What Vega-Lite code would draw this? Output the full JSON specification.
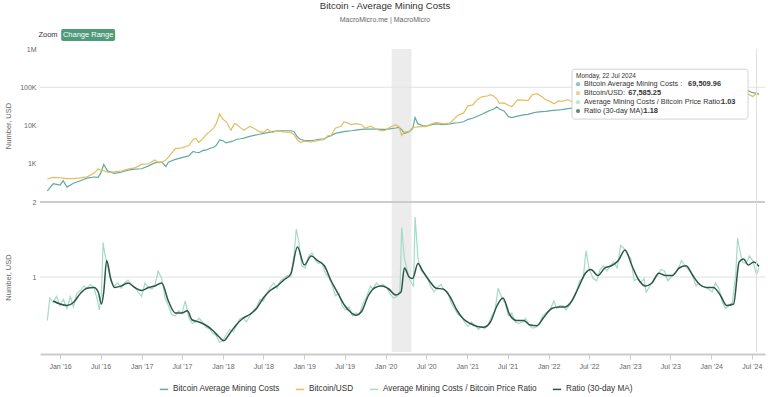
{
  "$schema": "https://vega.github.io/schema/vega-lite/v6.json",
  "padding": {"left": 4, "right": 3, "top": 1, "bottom": 0},
  "background": "white",
  "config": {
    "font": "Liberation Sans",
    "view": {"stroke": null},
    "axis": {"labelFont": "Liberation Sans", "labelFontSize": 7, "labelColor": "#666", "titleFont": "Liberation Sans", "titleFontSize": 7.5, "titleFontWeight": "normal", "titleColor": "#666", "domain": false, "ticks": false, "grid": false},
    "legend": {"orient": "none", "legendX": 119, "legendY": 355, "direction": "horizontal", "title": null, "symbolType": "stroke", "symbolSize": 70, "symbolStrokeWidth": 1.5, "labelFont": "Liberation Sans", "labelFontSize": 8.2, "labelColor": "#333", "columnPadding": 12, "labelOffset": 4, "labelLimit": 0, "padding": 0}
  },
  "title": {"text": "Bitcoin - Average Mining Costs", "subtitle": "MacroMicro.me | MacroMicro", "anchor": "middle", "frame": "bounds", "font": "Liberation Sans", "fontSize": 9.6, "fontWeight": "normal", "color": "#333", "subtitleFont": "Liberation Sans", "subtitleFontSize": 7, "subtitleColor": "#666", "subtitlePadding": 5, "offset": 6},
  "datasets": {
    "band": [{"start": "2020-01-28", "end": "2020-04-26"}],
    "prices": [
      {"date": "2015-11-05", "cost": 195, "price": 400},
      {"date": "2015-12-01", "cost": 300, "price": 440},
      {"date": "2016-01-01", "cost": 275, "price": 430},
      {"date": "2016-01-15", "cost": 360, "price": 420},
      {"date": "2016-02-01", "cost": 245, "price": 410},
      {"date": "2016-03-01", "cost": 310, "price": 410},
      {"date": "2016-04-01", "cost": 360, "price": 425},
      {"date": "2016-05-01", "cost": 420, "price": 455},
      {"date": "2016-06-01", "cost": 450, "price": 560},
      {"date": "2016-06-20", "cost": 440, "price": 740},
      {"date": "2016-07-01", "cost": 560, "price": 680},
      {"date": "2016-07-15", "cost": 960, "price": 660},
      {"date": "2016-08-01", "cost": 650, "price": 600},
      {"date": "2016-09-01", "cost": 560, "price": 610},
      {"date": "2016-10-01", "cost": 600, "price": 640},
      {"date": "2016-11-01", "cost": 680, "price": 720},
      {"date": "2016-12-01", "cost": 720, "price": 780},
      {"date": "2017-01-01", "cost": 740, "price": 960},
      {"date": "2017-02-01", "cost": 880, "price": 1000},
      {"date": "2017-03-01", "cost": 1050, "price": 1250},
      {"date": "2017-03-20", "cost": 1100, "price": 1050},
      {"date": "2017-04-01", "cost": 1100, "price": 1100},
      {"date": "2017-04-20", "cost": 850, "price": 1250},
      {"date": "2017-05-01", "cost": 1100, "price": 1500},
      {"date": "2017-06-01", "cost": 1300, "price": 2500},
      {"date": "2017-07-01", "cost": 1450, "price": 2600},
      {"date": "2017-08-01", "cost": 1600, "price": 3000},
      {"date": "2017-08-20", "cost": 2100, "price": 4300},
      {"date": "2017-09-01", "cost": 2000, "price": 4600},
      {"date": "2017-09-15", "cost": 1950, "price": 3600},
      {"date": "2017-10-01", "cost": 2200, "price": 4400},
      {"date": "2017-10-20", "cost": 2300, "price": 6000},
      {"date": "2017-11-01", "cost": 2500, "price": 6800},
      {"date": "2017-11-20", "cost": 2700, "price": 8500},
      {"date": "2017-12-01", "cost": 3000, "price": 11000},
      {"date": "2017-12-17", "cost": 4200, "price": 20000},
      {"date": "2018-01-01", "cost": 4000, "price": 14500},
      {"date": "2018-01-16", "cost": 3500, "price": 12500},
      {"date": "2018-02-06", "cost": 3800, "price": 7500},
      {"date": "2018-02-20", "cost": 4000, "price": 11000},
      {"date": "2018-03-01", "cost": 4300, "price": 11000},
      {"date": "2018-03-20", "cost": 4500, "price": 8800},
      {"date": "2018-04-05", "cost": 4700, "price": 7500},
      {"date": "2018-05-01", "cost": 5200, "price": 9500},
      {"date": "2018-05-20", "cost": 5500, "price": 8500},
      {"date": "2018-06-15", "cost": 5900, "price": 6800},
      {"date": "2018-07-01", "cost": 6200, "price": 6600},
      {"date": "2018-07-20", "cost": 6500, "price": 8000},
      {"date": "2018-08-10", "cost": 6900, "price": 6500},
      {"date": "2018-09-01", "cost": 7200, "price": 7200},
      {"date": "2018-10-01", "cost": 7300, "price": 6800},
      {"date": "2018-11-01", "cost": 7300, "price": 6600},
      {"date": "2018-11-15", "cost": 7000, "price": 5800},
      {"date": "2018-12-01", "cost": 5000, "price": 4200},
      {"date": "2018-12-15", "cost": 4300, "price": 3600},
      {"date": "2019-01-01", "cost": 4100, "price": 3900},
      {"date": "2019-02-01", "cost": 4000, "price": 3700},
      {"date": "2019-03-01", "cost": 4300, "price": 4000},
      {"date": "2019-04-01", "cost": 4500, "price": 4300},
      {"date": "2019-04-15", "cost": 5000, "price": 5400},
      {"date": "2019-05-01", "cost": 5400, "price": 5500},
      {"date": "2019-05-20", "cost": 6200, "price": 8500},
      {"date": "2019-06-15", "cost": 6700, "price": 9500},
      {"date": "2019-06-28", "cost": 6900, "price": 12500},
      {"date": "2019-07-15", "cost": 7100, "price": 11500},
      {"date": "2019-08-01", "cost": 7300, "price": 10500},
      {"date": "2019-08-20", "cost": 7600, "price": 11200},
      {"date": "2019-09-15", "cost": 7900, "price": 10500},
      {"date": "2019-10-01", "cost": 8000, "price": 8500},
      {"date": "2019-10-26", "cost": 8100, "price": 9600},
      {"date": "2019-11-20", "cost": 8000, "price": 8000},
      {"date": "2019-12-15", "cost": 7900, "price": 7200},
      {"date": "2020-01-01", "cost": 7900, "price": 7500},
      {"date": "2020-01-20", "cost": 8200, "price": 9000},
      {"date": "2020-02-15", "cost": 8600, "price": 10500},
      {"date": "2020-03-01", "cost": 8900, "price": 9200},
      {"date": "2020-03-13", "cost": 7800, "price": 5500},
      {"date": "2020-03-25", "cost": 6200, "price": 6700},
      {"date": "2020-04-15", "cost": 6900, "price": 7000},
      {"date": "2020-05-01", "cost": 8300, "price": 8800},
      {"date": "2020-05-12", "cost": 16000, "price": 9000},
      {"date": "2020-05-25", "cost": 11000, "price": 9200},
      {"date": "2020-06-15", "cost": 10000, "price": 9500},
      {"date": "2020-07-01", "cost": 9600, "price": 9300},
      {"date": "2020-07-25", "cost": 10500, "price": 11000},
      {"date": "2020-08-15", "cost": 11000, "price": 12000},
      {"date": "2020-09-15", "cost": 10500, "price": 11000},
      {"date": "2020-10-15", "cost": 11000, "price": 11500},
      {"date": "2020-11-01", "cost": 11500, "price": 14500},
      {"date": "2020-11-20", "cost": 11800, "price": 18500},
      {"date": "2020-12-15", "cost": 12500, "price": 21000},
      {"date": "2021-01-05", "cost": 14500, "price": 33000},
      {"date": "2021-01-25", "cost": 15500, "price": 34000},
      {"date": "2021-02-15", "cost": 17500, "price": 48000},
      {"date": "2021-03-10", "cost": 20000, "price": 57000},
      {"date": "2021-04-01", "cost": 23000, "price": 59000},
      {"date": "2021-04-15", "cost": 25000, "price": 64000},
      {"date": "2021-05-01", "cost": 27000, "price": 58000},
      {"date": "2021-05-13", "cost": 31000, "price": 50000},
      {"date": "2021-05-25", "cost": 27000, "price": 38000},
      {"date": "2021-06-15", "cost": 24000, "price": 39000},
      {"date": "2021-07-05", "cost": 17000, "price": 34000},
      {"date": "2021-07-20", "cost": 16000, "price": 31000},
      {"date": "2021-08-15", "cost": 17500, "price": 47000},
      {"date": "2021-09-10", "cost": 19000, "price": 46000},
      {"date": "2021-10-01", "cost": 19500, "price": 45000},
      {"date": "2021-10-20", "cost": 21000, "price": 64000},
      {"date": "2021-11-10", "cost": 22500, "price": 68000},
      {"date": "2021-12-01", "cost": 23000, "price": 57000},
      {"date": "2021-12-20", "cost": 23500, "price": 47000},
      {"date": "2022-01-10", "cost": 24500, "price": 42000},
      {"date": "2022-01-25", "cost": 25000, "price": 37000},
      {"date": "2022-02-15", "cost": 25500, "price": 44000},
      {"date": "2022-03-01", "cost": 26000, "price": 43000},
      {"date": "2022-03-28", "cost": 27500, "price": 47000},
      {"date": "2022-04-20", "cost": 28500, "price": 41000},
      {"date": "2022-05-12", "cost": 28000, "price": 29000},
      {"date": "2022-06-01", "cost": 28000, "price": 30000},
      {"date": "2022-06-18", "cost": 25000, "price": 19000},
      {"date": "2022-07-15", "cost": 21500, "price": 21000},
      {"date": "2022-08-15", "cost": 23000, "price": 24000},
      {"date": "2022-09-15", "cost": 22500, "price": 20000},
      {"date": "2022-10-15", "cost": 23000, "price": 19500},
      {"date": "2022-11-10", "cost": 22500, "price": 16500},
      {"date": "2022-12-15", "cost": 21000, "price": 17500},
      {"date": "2023-01-15", "cost": 22000, "price": 21000},
      {"date": "2023-02-15", "cost": 23500, "price": 24000},
      {"date": "2023-03-10", "cost": 22000, "price": 20500},
      {"date": "2023-03-25", "cost": 24500, "price": 28000},
      {"date": "2023-04-15", "cost": 29000, "price": 30500},
      {"date": "2023-05-15", "cost": 28500, "price": 27000},
      {"date": "2023-06-15", "cost": 28000, "price": 25500},
      {"date": "2023-06-30", "cost": 30000, "price": 30500},
      {"date": "2023-07-15", "cost": 31000, "price": 30500},
      {"date": "2023-08-20", "cost": 31500, "price": 26000},
      {"date": "2023-09-15", "cost": 30000, "price": 26500},
      {"date": "2023-10-25", "cost": 31500, "price": 34500},
      {"date": "2023-11-15", "cost": 33000, "price": 37000},
      {"date": "2023-12-10", "cost": 37000, "price": 44000},
      {"date": "2024-01-10", "cost": 38500, "price": 46000},
      {"date": "2024-01-25", "cost": 36000, "price": 40000},
      {"date": "2024-02-20", "cost": 38000, "price": 52000},
      {"date": "2024-03-14", "cost": 42000, "price": 72000},
      {"date": "2024-04-01", "cost": 46000, "price": 69000},
      {"date": "2024-04-22", "cost": 80000, "price": 65000},
      {"date": "2024-05-01", "cost": 85000, "price": 58000},
      {"date": "2024-05-20", "cost": 80000, "price": 70000},
      {"date": "2024-06-15", "cost": 80000, "price": 66000},
      {"date": "2024-07-05", "cost": 72000, "price": 57000},
      {"date": "2024-07-22", "cost": 69510, "price": 67585},
      {"date": "2024-08-02", "cost": 68000, "price": 64000}
    ],
    "ratio": [
      {"date": "2015-11-05", "ratio": 0.42}, {"date": "2015-11-16", "ratio": 0.72}, {"date": "2015-12-01", "ratio": 0.66}, {"date": "2015-12-16", "ratio": 0.74},
      {"date": "2016-01-01", "ratio": 0.62}, {"date": "2016-01-16", "ratio": 0.70}, {"date": "2016-02-01", "ratio": 0.58}, {"date": "2016-02-16", "ratio": 0.74},
      {"date": "2016-03-01", "ratio": 0.60}, {"date": "2016-03-16", "ratio": 0.78}, {"date": "2016-04-01", "ratio": 0.82}, {"date": "2016-04-16", "ratio": 0.88},
      {"date": "2016-05-01", "ratio": 0.85}, {"date": "2016-05-16", "ratio": 0.90}, {"date": "2016-06-01", "ratio": 0.86}, {"date": "2016-06-16", "ratio": 0.70},
      {"date": "2016-06-25", "ratio": 0.56}, {"date": "2016-07-05", "ratio": 0.80}, {"date": "2016-07-12", "ratio": 1.46}, {"date": "2016-07-20", "ratio": 1.30},
      {"date": "2016-08-01", "ratio": 1.15}, {"date": "2016-08-16", "ratio": 0.95}, {"date": "2016-09-01", "ratio": 0.88}, {"date": "2016-09-16", "ratio": 0.92},
      {"date": "2016-10-01", "ratio": 0.85}, {"date": "2016-10-16", "ratio": 0.92}, {"date": "2016-11-01", "ratio": 0.96}, {"date": "2016-11-16", "ratio": 0.90},
      {"date": "2016-12-01", "ratio": 0.86}, {"date": "2016-12-16", "ratio": 0.80}, {"date": "2017-01-01", "ratio": 0.74}, {"date": "2017-01-16", "ratio": 0.92},
      {"date": "2017-02-01", "ratio": 0.86}, {"date": "2017-02-16", "ratio": 0.84}, {"date": "2017-03-01", "ratio": 0.88}, {"date": "2017-03-16", "ratio": 1.08},
      {"date": "2017-04-01", "ratio": 0.98}, {"date": "2017-04-16", "ratio": 0.72}, {"date": "2017-05-01", "ratio": 0.62}, {"date": "2017-05-16", "ratio": 0.50},
      {"date": "2017-06-01", "ratio": 0.48}, {"date": "2017-06-16", "ratio": 0.55}, {"date": "2017-07-01", "ratio": 0.52}, {"date": "2017-07-16", "ratio": 0.68},
      {"date": "2017-08-01", "ratio": 0.46}, {"date": "2017-08-16", "ratio": 0.38}, {"date": "2017-09-01", "ratio": 0.40}, {"date": "2017-09-16", "ratio": 0.45},
      {"date": "2017-10-01", "ratio": 0.40}, {"date": "2017-10-16", "ratio": 0.33}, {"date": "2017-11-01", "ratio": 0.31}, {"date": "2017-11-16", "ratio": 0.25},
      {"date": "2017-12-01", "ratio": 0.22}, {"date": "2017-12-16", "ratio": 0.13}, {"date": "2018-01-01", "ratio": 0.15}, {"date": "2018-01-16", "ratio": 0.24},
      {"date": "2018-02-01", "ratio": 0.30}, {"date": "2018-02-16", "ratio": 0.27}, {"date": "2018-03-01", "ratio": 0.34}, {"date": "2018-03-16", "ratio": 0.44},
      {"date": "2018-04-01", "ratio": 0.46}, {"date": "2018-04-16", "ratio": 0.40}, {"date": "2018-05-01", "ratio": 0.48}, {"date": "2018-05-16", "ratio": 0.55},
      {"date": "2018-06-01", "ratio": 0.60}, {"date": "2018-06-16", "ratio": 0.70}, {"date": "2018-07-01", "ratio": 0.68}, {"date": "2018-07-16", "ratio": 0.78},
      {"date": "2018-08-01", "ratio": 0.86}, {"date": "2018-08-16", "ratio": 0.92}, {"date": "2018-09-01", "ratio": 0.85}, {"date": "2018-09-16", "ratio": 0.95},
      {"date": "2018-10-01", "ratio": 0.98}, {"date": "2018-10-16", "ratio": 1.02}, {"date": "2018-11-01", "ratio": 1.00}, {"date": "2018-11-16", "ratio": 1.30},
      {"date": "2018-11-26", "ratio": 1.64}, {"date": "2018-12-08", "ratio": 1.45}, {"date": "2018-12-20", "ratio": 1.15}, {"date": "2019-01-05", "ratio": 1.12},
      {"date": "2019-01-20", "ratio": 1.28}, {"date": "2019-02-05", "ratio": 1.32}, {"date": "2019-02-20", "ratio": 1.22}, {"date": "2019-03-05", "ratio": 1.18},
      {"date": "2019-03-20", "ratio": 1.20}, {"date": "2019-04-05", "ratio": 1.05}, {"date": "2019-04-20", "ratio": 1.00}, {"date": "2019-05-05", "ratio": 0.90},
      {"date": "2019-05-20", "ratio": 0.75}, {"date": "2019-06-05", "ratio": 0.78}, {"date": "2019-06-20", "ratio": 0.62}, {"date": "2019-07-05", "ratio": 0.56},
      {"date": "2019-07-20", "ratio": 0.60}, {"date": "2019-08-05", "ratio": 0.48}, {"date": "2019-08-20", "ratio": 0.52}, {"date": "2019-09-05", "ratio": 0.50},
      {"date": "2019-09-20", "ratio": 0.64}, {"date": "2019-10-05", "ratio": 0.72}, {"date": "2019-10-25", "ratio": 0.88}, {"date": "2019-11-05", "ratio": 0.84},
      {"date": "2019-11-20", "ratio": 0.92}, {"date": "2019-12-05", "ratio": 0.88}, {"date": "2019-12-20", "ratio": 0.90}, {"date": "2020-01-05", "ratio": 0.86},
      {"date": "2020-01-20", "ratio": 0.78}, {"date": "2020-02-05", "ratio": 0.72}, {"date": "2020-02-20", "ratio": 0.74}, {"date": "2020-03-05", "ratio": 0.82},
      {"date": "2020-03-13", "ratio": 1.66}, {"date": "2020-03-25", "ratio": 1.25}, {"date": "2020-04-05", "ratio": 1.10}, {"date": "2020-04-20", "ratio": 0.95},
      {"date": "2020-05-05", "ratio": 0.88}, {"date": "2020-05-12", "ratio": 1.80}, {"date": "2020-05-25", "ratio": 1.25}, {"date": "2020-06-05", "ratio": 1.10},
      {"date": "2020-06-20", "ratio": 1.05}, {"date": "2020-07-05", "ratio": 1.00}, {"date": "2020-07-20", "ratio": 0.88}, {"date": "2020-08-05", "ratio": 0.80},
      {"date": "2020-08-20", "ratio": 0.86}, {"date": "2020-09-05", "ratio": 0.90}, {"date": "2020-09-20", "ratio": 0.82}, {"date": "2020-10-05", "ratio": 0.80},
      {"date": "2020-10-20", "ratio": 0.66}, {"date": "2020-11-05", "ratio": 0.58}, {"date": "2020-11-20", "ratio": 0.50}, {"date": "2020-12-05", "ratio": 0.48},
      {"date": "2020-12-20", "ratio": 0.40}, {"date": "2021-01-05", "ratio": 0.34}, {"date": "2021-01-20", "ratio": 0.40}, {"date": "2021-02-05", "ratio": 0.36},
      {"date": "2021-02-20", "ratio": 0.30}, {"date": "2021-03-05", "ratio": 0.34}, {"date": "2021-03-20", "ratio": 0.31}, {"date": "2021-04-05", "ratio": 0.36},
      {"date": "2021-04-20", "ratio": 0.48}, {"date": "2021-05-05", "ratio": 0.55}, {"date": "2021-05-20", "ratio": 0.85}, {"date": "2021-06-05", "ratio": 0.72},
      {"date": "2021-06-20", "ratio": 0.65}, {"date": "2021-07-05", "ratio": 0.48}, {"date": "2021-07-20", "ratio": 0.52}, {"date": "2021-08-05", "ratio": 0.40},
      {"date": "2021-08-20", "ratio": 0.38}, {"date": "2021-09-05", "ratio": 0.40}, {"date": "2021-09-20", "ratio": 0.45}, {"date": "2021-10-05", "ratio": 0.36},
      {"date": "2021-10-20", "ratio": 0.32}, {"date": "2021-11-05", "ratio": 0.33}, {"date": "2021-11-20", "ratio": 0.38}, {"date": "2021-12-05", "ratio": 0.48},
      {"date": "2021-12-20", "ratio": 0.52}, {"date": "2022-01-05", "ratio": 0.55}, {"date": "2022-01-25", "ratio": 0.68}, {"date": "2022-02-05", "ratio": 0.58},
      {"date": "2022-02-20", "ratio": 0.62}, {"date": "2022-03-05", "ratio": 0.62}, {"date": "2022-03-20", "ratio": 0.56}, {"date": "2022-04-05", "ratio": 0.62},
      {"date": "2022-04-20", "ratio": 0.72}, {"date": "2022-05-05", "ratio": 0.80}, {"date": "2022-05-20", "ratio": 0.95}, {"date": "2022-06-05", "ratio": 0.98},
      {"date": "2022-06-18", "ratio": 1.35}, {"date": "2022-07-01", "ratio": 1.12}, {"date": "2022-07-20", "ratio": 0.98}, {"date": "2022-08-05", "ratio": 0.95},
      {"date": "2022-08-20", "ratio": 1.10}, {"date": "2022-09-05", "ratio": 1.15}, {"date": "2022-09-20", "ratio": 1.08}, {"date": "2022-10-05", "ratio": 1.15},
      {"date": "2022-10-20", "ratio": 1.20}, {"date": "2022-11-05", "ratio": 1.12}, {"date": "2022-11-20", "ratio": 1.42}, {"date": "2022-12-05", "ratio": 1.38},
      {"date": "2022-12-20", "ratio": 1.30}, {"date": "2023-01-05", "ratio": 1.25}, {"date": "2023-01-20", "ratio": 0.95}, {"date": "2023-02-05", "ratio": 0.98},
      {"date": "2023-02-20", "ratio": 0.92}, {"date": "2023-03-05", "ratio": 0.98}, {"date": "2023-03-15", "ratio": 0.80}, {"date": "2023-04-01", "ratio": 0.88},
      {"date": "2023-04-20", "ratio": 0.98}, {"date": "2023-05-05", "ratio": 1.02}, {"date": "2023-05-20", "ratio": 1.10}, {"date": "2023-06-05", "ratio": 1.08},
      {"date": "2023-06-20", "ratio": 0.95}, {"date": "2023-07-05", "ratio": 1.00}, {"date": "2023-07-20", "ratio": 1.05}, {"date": "2023-08-05", "ratio": 1.10},
      {"date": "2023-08-20", "ratio": 1.22}, {"date": "2023-09-05", "ratio": 1.15}, {"date": "2023-09-20", "ratio": 1.10}, {"date": "2023-10-05", "ratio": 1.05},
      {"date": "2023-10-25", "ratio": 0.88}, {"date": "2023-11-05", "ratio": 0.92}, {"date": "2023-11-20", "ratio": 0.88}, {"date": "2023-12-05", "ratio": 0.86},
      {"date": "2023-12-20", "ratio": 0.84}, {"date": "2024-01-05", "ratio": 0.80}, {"date": "2024-01-20", "ratio": 0.92}, {"date": "2024-02-05", "ratio": 0.84},
      {"date": "2024-02-20", "ratio": 0.66}, {"date": "2024-03-05", "ratio": 0.58}, {"date": "2024-03-20", "ratio": 0.62}, {"date": "2024-04-05", "ratio": 0.66},
      {"date": "2024-04-20", "ratio": 1.05}, {"date": "2024-04-28", "ratio": 1.52}, {"date": "2024-05-08", "ratio": 1.35}, {"date": "2024-05-20", "ratio": 1.20},
      {"date": "2024-06-05", "ratio": 1.18}, {"date": "2024-06-20", "ratio": 1.28}, {"date": "2024-07-05", "ratio": 1.22}, {"date": "2024-07-22", "ratio": 1.03},
      {"date": "2024-08-02", "ratio": 1.12}
    ],
    "ma": [
      {"date": "2015-12-01", "ma": 0.68}, {"date": "2016-01-01", "ma": 0.64}, {"date": "2016-02-01", "ma": 0.62}, {"date": "2016-03-01", "ma": 0.66},
      {"date": "2016-04-01", "ma": 0.78}, {"date": "2016-05-01", "ma": 0.85}, {"date": "2016-06-01", "ma": 0.86}, {"date": "2016-06-20", "ma": 0.80},
      {"date": "2016-07-05", "ma": 0.64}, {"date": "2016-07-15", "ma": 0.80}, {"date": "2016-07-28", "ma": 1.22}, {"date": "2016-08-15", "ma": 0.98},
      {"date": "2016-09-01", "ma": 0.86}, {"date": "2016-10-01", "ma": 0.88}, {"date": "2016-11-01", "ma": 0.92}, {"date": "2016-12-01", "ma": 0.86},
      {"date": "2017-01-01", "ma": 0.82}, {"date": "2017-02-01", "ma": 0.86}, {"date": "2017-03-01", "ma": 0.88}, {"date": "2017-04-01", "ma": 0.92},
      {"date": "2017-05-01", "ma": 0.68}, {"date": "2017-06-01", "ma": 0.52}, {"date": "2017-07-01", "ma": 0.52}, {"date": "2017-07-25", "ma": 0.55},
      {"date": "2017-08-15", "ma": 0.43}, {"date": "2017-09-15", "ma": 0.40}, {"date": "2017-10-15", "ma": 0.36}, {"date": "2017-11-15", "ma": 0.29},
      {"date": "2017-12-15", "ma": 0.20}, {"date": "2018-01-05", "ma": 0.15}, {"date": "2018-02-01", "ma": 0.25}, {"date": "2018-03-01", "ma": 0.36},
      {"date": "2018-04-01", "ma": 0.45}, {"date": "2018-05-01", "ma": 0.50}, {"date": "2018-06-01", "ma": 0.58}, {"date": "2018-07-01", "ma": 0.72},
      {"date": "2018-08-01", "ma": 0.82}, {"date": "2018-09-01", "ma": 0.88}, {"date": "2018-10-01", "ma": 0.96}, {"date": "2018-11-01", "ma": 1.04},
      {"date": "2018-12-01", "ma": 1.40}, {"date": "2019-01-01", "ma": 1.16}, {"date": "2019-02-01", "ma": 1.28}, {"date": "2019-03-01", "ma": 1.22},
      {"date": "2019-04-01", "ma": 1.15}, {"date": "2019-05-01", "ma": 0.95}, {"date": "2019-06-01", "ma": 0.78}, {"date": "2019-07-01", "ma": 0.62},
      {"date": "2019-08-01", "ma": 0.52}, {"date": "2019-08-20", "ma": 0.49}, {"date": "2019-09-15", "ma": 0.54}, {"date": "2019-10-15", "ma": 0.75},
      {"date": "2019-11-15", "ma": 0.86}, {"date": "2019-12-15", "ma": 0.88}, {"date": "2020-01-15", "ma": 0.84}, {"date": "2020-02-15", "ma": 0.76},
      {"date": "2020-03-10", "ma": 0.80}, {"date": "2020-03-25", "ma": 1.12}, {"date": "2020-04-15", "ma": 1.00}, {"date": "2020-05-01", "ma": 0.98},
      {"date": "2020-05-25", "ma": 1.18}, {"date": "2020-06-15", "ma": 1.08}, {"date": "2020-07-15", "ma": 0.95}, {"date": "2020-08-15", "ma": 0.85},
      {"date": "2020-09-15", "ma": 0.84}, {"date": "2020-10-15", "ma": 0.74}, {"date": "2020-11-15", "ma": 0.56}, {"date": "2020-12-15", "ma": 0.44},
      {"date": "2021-01-15", "ma": 0.38}, {"date": "2021-02-15", "ma": 0.34}, {"date": "2021-03-15", "ma": 0.33}, {"date": "2021-04-15", "ma": 0.40},
      {"date": "2021-05-15", "ma": 0.62}, {"date": "2021-06-10", "ma": 0.72}, {"date": "2021-07-10", "ma": 0.50}, {"date": "2021-08-10", "ma": 0.42},
      {"date": "2021-09-10", "ma": 0.42}, {"date": "2021-10-10", "ma": 0.36}, {"date": "2021-11-10", "ma": 0.35}, {"date": "2021-12-10", "ma": 0.46},
      {"date": "2022-01-15", "ma": 0.58}, {"date": "2022-02-15", "ma": 0.60}, {"date": "2022-03-15", "ma": 0.60}, {"date": "2022-04-15", "ma": 0.68},
      {"date": "2022-05-15", "ma": 0.86}, {"date": "2022-06-15", "ma": 1.05}, {"date": "2022-07-10", "ma": 1.10}, {"date": "2022-08-10", "ma": 1.02},
      {"date": "2022-09-10", "ma": 1.12}, {"date": "2022-10-10", "ma": 1.15}, {"date": "2022-11-10", "ma": 1.22}, {"date": "2022-12-10", "ma": 1.36},
      {"date": "2023-01-10", "ma": 1.15}, {"date": "2023-02-10", "ma": 0.96}, {"date": "2023-03-10", "ma": 0.88}, {"date": "2023-04-10", "ma": 0.92},
      {"date": "2023-05-10", "ma": 1.05}, {"date": "2023-06-10", "ma": 1.02}, {"date": "2023-07-10", "ma": 1.02}, {"date": "2023-08-10", "ma": 1.12},
      {"date": "2023-09-10", "ma": 1.15}, {"date": "2023-10-10", "ma": 1.02}, {"date": "2023-11-10", "ma": 0.90}, {"date": "2023-12-10", "ma": 0.86},
      {"date": "2024-01-10", "ma": 0.86}, {"date": "2024-02-10", "ma": 0.76}, {"date": "2024-03-10", "ma": 0.62}, {"date": "2024-04-10", "ma": 0.64},
      {"date": "2024-05-05", "ma": 1.20}, {"date": "2024-05-25", "ma": 1.24}, {"date": "2024-06-15", "ma": 1.16}, {"date": "2024-07-10", "ma": 1.20},
      {"date": "2024-07-22", "ma": 1.18}, {"date": "2024-08-02", "ma": 1.14}
    ],
    "one": [{}]
  },
  "bounds": "flush",
  "spacing": 0,
  "resolve": {"scale": {"color": "shared"}},
  "vconcat": [
    {
      "width": 725,
      "height": 20,
      "data": {"name": "one"},
      "layer": [
        {
          "mark": {"type": "text", "text": "Zoom", "fontSize": 7.5, "color": "#333", "align": "center", "baseline": "middle"},
          "encoding": {
            "x": {"datum": {"year": 2015, "month": 11, "date": 8, "utc": true}, "type": "temporal", "scale": {"type": "utc", "domain": [{"year": 2015, "month": 10, "date": 3, "utc": true}, {"year": 2024, "month": 8, "date": 29, "utc": true}]}, "axis": null},
            "y": {"datum": 14, "type": "quantitative", "scale": {"domain": [0, 20]}, "axis": null}
          }
        },
        {
          "mark": {"type": "rect", "fill": "#4e9a79", "cornerRadius": 2},
          "encoding": {
            "x": {"datum": {"year": 2016, "month": 1, "date": 6, "utc": true}, "type": "temporal", "axis": null},
            "x2": {"datum": {"year": 2016, "month": 9, "date": 4, "utc": true}},
            "y": {"datum": 20, "type": "quantitative", "axis": null},
            "y2": {"datum": 8}
          }
        },
        {
          "mark": {"type": "text", "text": "Change Range", "fontSize": 7.5, "color": "white", "align": "center", "baseline": "middle"},
          "encoding": {
            "x": {"datum": {"year": 2016, "month": 5, "date": 6, "utc": true}, "type": "temporal", "axis": null},
            "y": {"datum": 14, "type": "quantitative", "axis": null}
          }
        }
      ]
    },
    {
      "width": 725,
      "height": 153,
      "layer": [
        {
          "data": {"name": "band"},
          "mark": {"type": "rect", "color": "#ececec"},
          "encoding": {
            "x": {"field": "start", "type": "temporal", "scale": {"type": "utc", "domain": [{"year": 2015, "month": 10, "date": 3, "utc": true}, {"year": 2024, "month": 8, "date": 29, "utc": true}]}, "axis": null},
            "x2": {"field": "end"}
          }
        },
        {
          "data": {"name": "one"},
          "mark": {"type": "rule", "color": "#e2e2e2", "strokeWidth": 1},
          "encoding": {
            "y": {"datum": 100000, "type": "quantitative", "scale": {"type": "log", "domain": [100, 1000000], "nice": false}, "axis": {"title": "Number, USD", "values": [1000, 10000, 100000, 1000000], "labelExpr": "datum.value >= 1000000 ? '1M' : format(datum.value / 1000, 'd') + 'K'", "labelPadding": 4, "minExtent": 24, "maxExtent": 24, "titlePadding": 4}}
          }
        },
        {
          "data": {"name": "prices"},
          "mark": {"type": "line", "strokeWidth": 1.2, "interpolate": "linear"},
          "encoding": {
            "x": {"field": "date", "type": "temporal", "axis": null},
            "y": {"field": "cost", "type": "quantitative", "axis": {"title": "Number, USD"}},
            "color": {"datum": "Bitcoin Average Mining Costs", "scale": {"domain": ["Bitcoin Average Mining Costs", "Bitcoin/USD", "Average Mining Costs / Bitcoin Price Ratio", "Ratio (30-day MA)"], "range": ["#62aba3", "#e4bd5e", "#a3dbc6", "#2e5646"]}}
          }
        },
        {
          "data": {"name": "prices"},
          "mark": {"type": "line", "strokeWidth": 1.2},
          "encoding": {
            "x": {"field": "date", "type": "temporal", "axis": null},
            "y": {"field": "price", "type": "quantitative", "axis": {"title": "Number, USD"}},
            "color": {"datum": "Bitcoin/USD"}
          }
        },
        {
          "data": {"name": "one"},
          "mark": {"type": "rule", "color": "#e0e0e0", "strokeWidth": 1},
          "encoding": {"x": {"datum": {"year": 2024, "month": 7, "date": 22, "utc": true}, "type": "temporal", "axis": null}}
        },
        {
          "data": {"name": "one"},
          "mark": {"type": "rect", "fill": "white", "fillOpacity": 0.95, "stroke": "#c8c8c8", "strokeWidth": 0.8, "cornerRadius": 3},
          "encoding": {
            "x": {"datum": {"year": 2022, "month": 4, "date": 16, "utc": true}, "type": "temporal", "axis": null},
            "x2": {"datum": {"year": 2024, "month": 6, "date": 14, "utc": true}},
            "y": {"datum": 297000, "type": "quantitative", "axis": {"title": "Number, USD"}},
            "y2": {"datum": 14700}
          }
        },
        {
          "data": {"name": "one"},
          "mark": {"type": "text", "text": "Monday, 22 Jul 2024", "fontSize": 6.5, "color": "#333", "align": "left", "baseline": "middle"},
          "encoding": {
            "x": {"datum": {"year": 2022, "month": 5, "date": 4, "utc": true}, "type": "temporal", "axis": null},
            "y": {"datum": 195000, "type": "quantitative", "axis": {"title": "Number, USD"}}
          }
        },
        {
          "data": {"name": "one"},
          "mark": {"type": "text", "text": ["Bitcoin Average Mining Costs :", "Bitcoin/USD:", "Average Mining Costs / Bitcoin Price Ratio:", "Ratio (30-day MA):"], "lineHeight": 9, "fontSize": 7.25, "color": "#333", "align": "left", "baseline": "middle"},
          "encoding": {
            "x": {"datum": {"year": 2022, "month": 6, "date": 9, "utc": true}, "type": "temporal", "axis": null},
            "y": {"datum": 120500, "type": "quantitative", "axis": {"title": "Number, USD"}}
          }
        },
        {
          "data": {"name": "one"},
          "mark": {"type": "text", "text": "69,509.96", "fontSize": 7.4, "fontWeight": "bold", "color": "#333", "align": "left", "baseline": "middle"},
          "encoding": {
            "x": {"datum": {"year": 2023, "month": 9, "date": 19, "utc": true}, "type": "temporal", "axis": null},
            "y": {"datum": 120500, "type": "quantitative", "axis": {"title": "Number, USD"}}
          }
        },
        {
          "data": {"name": "one"},
          "mark": {"type": "text", "text": "67,585.25", "fontSize": 7.4, "fontWeight": "bold", "color": "#333", "align": "left", "baseline": "middle"},
          "encoding": {
            "x": {"datum": {"year": 2022, "month": 12, "date": 24, "utc": true}, "type": "temporal", "axis": null},
            "y": {"datum": 70200, "type": "quantitative", "axis": {"title": "Number, USD"}}
          }
        },
        {
          "data": {"name": "one"},
          "mark": {"type": "text", "text": "1.03", "fontSize": 7.4, "fontWeight": "bold", "color": "#333", "align": "left", "baseline": "middle"},
          "encoding": {
            "x": {"datum": {"year": 2024, "month": 2, "date": 14, "utc": true}, "type": "temporal", "axis": null},
            "y": {"datum": 40800, "type": "quantitative", "axis": {"title": "Number, USD"}}
          }
        },
        {
          "data": {"name": "one"},
          "mark": {"type": "text", "text": "1.18", "fontSize": 7.4, "fontWeight": "bold", "color": "#333", "align": "left", "baseline": "middle"},
          "encoding": {
            "x": {"datum": {"year": 2023, "month": 3, "date": 3, "utc": true}, "type": "temporal", "axis": null},
            "y": {"datum": 23800, "type": "quantitative", "axis": {"title": "Number, USD"}}
          }
        },
        {
          "data": {"name": "one"},
          "mark": {"type": "point", "shape": "circle", "filled": true, "size": 18, "color": "#62aba3"},
          "encoding": {
            "x": {"datum": {"year": 2022, "month": 5, "date": 13, "utc": true}, "type": "temporal", "axis": null},
            "y": {"datum": 120500, "type": "quantitative", "axis": {"title": "Number, USD"}}
          }
        },
        {
          "data": {"name": "one"},
          "mark": {"type": "point", "shape": "circle", "filled": true, "size": 18, "color": "#e4bd5e"},
          "encoding": {
            "x": {"datum": {"year": 2022, "month": 5, "date": 13, "utc": true}, "type": "temporal", "axis": null},
            "y": {"datum": 70200, "type": "quantitative", "axis": {"title": "Number, USD"}}
          }
        },
        {
          "data": {"name": "one"},
          "mark": {"type": "point", "shape": "circle", "filled": true, "size": 18, "color": "#a3dbc6"},
          "encoding": {
            "x": {"datum": {"year": 2022, "month": 5, "date": 13, "utc": true}, "type": "temporal", "axis": null},
            "y": {"datum": 40800, "type": "quantitative", "axis": {"title": "Number, USD"}}
          }
        },
        {
          "data": {"name": "one"},
          "mark": {"type": "point", "shape": "circle", "filled": true, "size": 18, "color": "#2e5646"},
          "encoding": {
            "x": {"datum": {"year": 2022, "month": 5, "date": 13, "utc": true}, "type": "temporal", "axis": null},
            "y": {"datum": 23800, "type": "quantitative", "axis": {"title": "Number, USD"}}
          }
        }
      ]
    },
    {
      "width": 725,
      "height": 150,
      "layer": [
        {
          "data": {"name": "band"},
          "mark": {"type": "rect", "color": "#ececec"},
          "encoding": {
            "x": {"field": "start", "type": "temporal", "scale": {"type": "utc", "domain": [{"year": 2015, "month": 10, "date": 3, "utc": true}, {"year": 2024, "month": 8, "date": 29, "utc": true}]}, "axis": {"title": null, "format": "%b '%y", "values": [{"year": 2016, "month": 1, "date": 1, "utc": true}, {"year": 2016, "month": 7, "date": 1, "utc": true}, {"year": 2017, "month": 1, "date": 1, "utc": true}, {"year": 2017, "month": 7, "date": 1, "utc": true}, {"year": 2018, "month": 1, "date": 1, "utc": true}, {"year": 2018, "month": 7, "date": 1, "utc": true}, {"year": 2019, "month": 1, "date": 1, "utc": true}, {"year": 2019, "month": 7, "date": 1, "utc": true}, {"year": 2020, "month": 1, "date": 1, "utc": true}, {"year": 2020, "month": 7, "date": 1, "utc": true}, {"year": 2021, "month": 1, "date": 1, "utc": true}, {"year": 2021, "month": 7, "date": 1, "utc": true}, {"year": 2022, "month": 1, "date": 1, "utc": true}, {"year": 2022, "month": 7, "date": 1, "utc": true}, {"year": 2023, "month": 1, "date": 1, "utc": true}, {"year": 2023, "month": 7, "date": 1, "utc": true}, {"year": 2024, "month": 1, "date": 1, "utc": true}, {"year": 2024, "month": 7, "date": 1, "utc": true}], "domain": true, "domainColor": "#cccccc", "domainWidth": 2, "ticks": true, "tickColor": "#cccccc", "tickSize": 5, "labelPadding": 3, "offset": 2, "labelFontSize": 7, "labelColor": "#666"}},
            "x2": {"field": "end"}
          }
        },
        {
          "data": {"name": "one"},
          "mark": {"type": "rule", "color": "#e0e0e0", "strokeWidth": 1},
          "encoding": {
            "y": {"datum": 1, "type": "quantitative", "scale": {"domain": [0, 2], "nice": false}, "axis": {"title": "Number, USD", "values": [1, 2], "format": "d", "labelPadding": 4, "minExtent": 24, "maxExtent": 24, "titlePadding": 4}}
          }
        },
        {
          "data": {"name": "one"},
          "mark": {"type": "rule", "color": "#cccccc", "strokeWidth": 2},
          "encoding": {"y": {"datum": 2, "type": "quantitative", "axis": {"title": "Number, USD"}}}
        },
        {
          "data": {"name": "ratio"},
          "mark": {"type": "line", "strokeWidth": 1.2},
          "encoding": {
            "x": {"field": "date", "type": "temporal"},
            "y": {"field": "ratio", "type": "quantitative", "axis": {"title": "Number, USD"}},
            "color": {"datum": "Average Mining Costs / Bitcoin Price Ratio"}
          }
        },
        {
          "data": {"name": "ma"},
          "mark": {"type": "line", "strokeWidth": 1.5, "interpolate": "monotone"},
          "encoding": {
            "x": {"field": "date", "type": "temporal"},
            "y": {"field": "ma", "type": "quantitative", "axis": {"title": "Number, USD"}},
            "color": {"datum": "Ratio (30-day MA)"}
          }
        },
        {
          "data": {"name": "one"},
          "mark": {"type": "rule", "color": "#e0e0e0", "strokeWidth": 1},
          "encoding": {"x": {"datum": {"year": 2024, "month": 7, "date": 22, "utc": true}, "type": "temporal"}}
        }
      ]
    }
  ]
}
